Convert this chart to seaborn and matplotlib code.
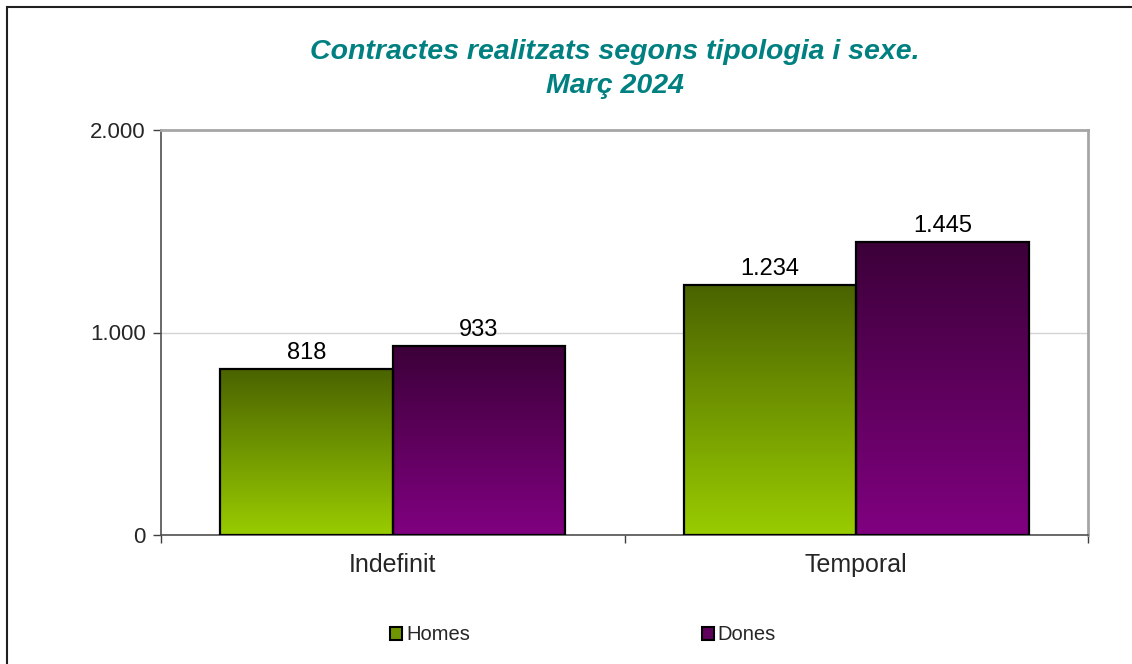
import numpy as np
import pandas as pd
import seaborn as sns
import matplotlib.pyplot as plt
from matplotlib.colors import LinearSegmentedColormap
from matplotlib.patches import Rectangle
from matplotlib.ticker import FuncFormatter

categories = ["Indefinit", "Temporal"]
series = ["Homes", "Dones"]
homes = [818, 1234]
dones = [933, 1445]

# gradient colours (top, bottom) for each series
grad_colors = {
    "Homes": ("#4a6300", "#99cc00"),
    "Dones": ("#3c0039", "#800080"),
}
mid_colors = {"Homes": "#6f9600", "Dones": "#5e005c"}

df = pd.DataFrame({
    "tipus": categories * 2,
    "sexe": ["Homes"] * len(categories) + ["Dones"] * len(categories),
    "contractes": homes + dones,
})

sns.set_style("white")
plt.rcParams["font.family"] = ["Liberation Sans", "DejaVu Sans"]

fig = plt.figure(figsize=(11.32, 6.64), dpi=100)
ax = fig.add_axes([161 / 1132, 1 - 535 / 664, (1088 - 161) / 1132, (535 - 130) / 664])

sns.barplot(data=df, x="tipus", y="contractes", hue="sexe", order=categories,
            hue_order=series, palette=mid_colors, width=0.744, gap=0,
            edgecolor="black", linewidth=1.6, legend=False, ax=ax, zorder=3)

# gradient fill clipped to each bar
grad = np.linspace(0, 1, 256).reshape(-1, 1)
for container, name in zip(ax.containers, series):
    cmap = LinearSegmentedColormap.from_list(name, [grad_colors[name][1], grad_colors[name][0]])
    for bar in container:
        x0, y0 = bar.get_x(), bar.get_y()
        w, h = bar.get_width(), bar.get_height()
        im = ax.imshow(grad, cmap=cmap, extent=[x0, x0 + w, y0, y0 + h],
                       origin="lower", aspect="auto", zorder=2.5)
        im.set_clip_path(bar)
        bar.set_facecolor("none")
    ax.bar_label(container, labels=[f"{v:,.0f}".replace(",", ".") for v in container.datavalues],
                 padding=4, fontsize=17, color="black")
ax.set_xlim(-0.5, 1.5)
ax.set_ylim(0, 2000)

# axes styling
ax.set_yticks([0, 1000, 2000])
ax.yaxis.set_major_formatter(FuncFormatter(lambda v, p: f"{v:,.0f}".replace(",", ".")))
ax.yaxis.grid(True, color="#d4d4d4", linewidth=1, zorder=0)
ax.tick_params(axis="y", left=True, length=6, width=1, color="#404040", labelsize=16, pad=5)
ax.set_xticks([0, 1])
ax.set_xticklabels(categories)
ax.set_xticks([-0.5, 0.5, 1.5], minor=True)
ax.tick_params(axis="x", which="major", length=0, labelsize=18, pad=13)
ax.tick_params(axis="x", which="minor", bottom=True, length=6, width=1, color="#404040")
ax.set_xlabel("")
ax.set_ylabel("")
for side in ["left", "bottom"]:
    ax.spines[side].set_color("#505050")
    ax.spines[side].set_linewidth(1.2)
for side in ["top", "right"]:
    ax.spines[side].set_color("#a6a6a6")
    ax.spines[side].set_linewidth(2)

fig.text(615 / 1132, 1 - 39 / 664, "Contractes realitzats segons tipologia i sexe.\nMarç 2024",
         ha="center", va="top", fontsize=20.5, fontweight="bold", fontstyle="italic",
         color="#008080", linespacing=1.4)

# legend
handles = [Rectangle((0, 0), 1, 1, facecolor=mid_colors[s], edgecolor="black", linewidth=1.5)
           for s in series]
fig.legend(handles, series, loc="center", bbox_to_anchor=(583 / 1132, 1 - 635 / 664), ncol=2,
           frameon=False, fontsize=14.5, handlelength=0.6, handleheight=0.6,
           handletextpad=0.2, columnspacing=11.5)

# outer chart border (cropped at right/bottom)
fig.patches.append(Rectangle((7 / 1132, -0.05), 1.2, 1 - 7 / 664 + 0.05, transform=fig.transFigure,
                             fill=False, edgecolor="#202020", linewidth=1.5))

fig.savefig("out.png", dpi=100)
